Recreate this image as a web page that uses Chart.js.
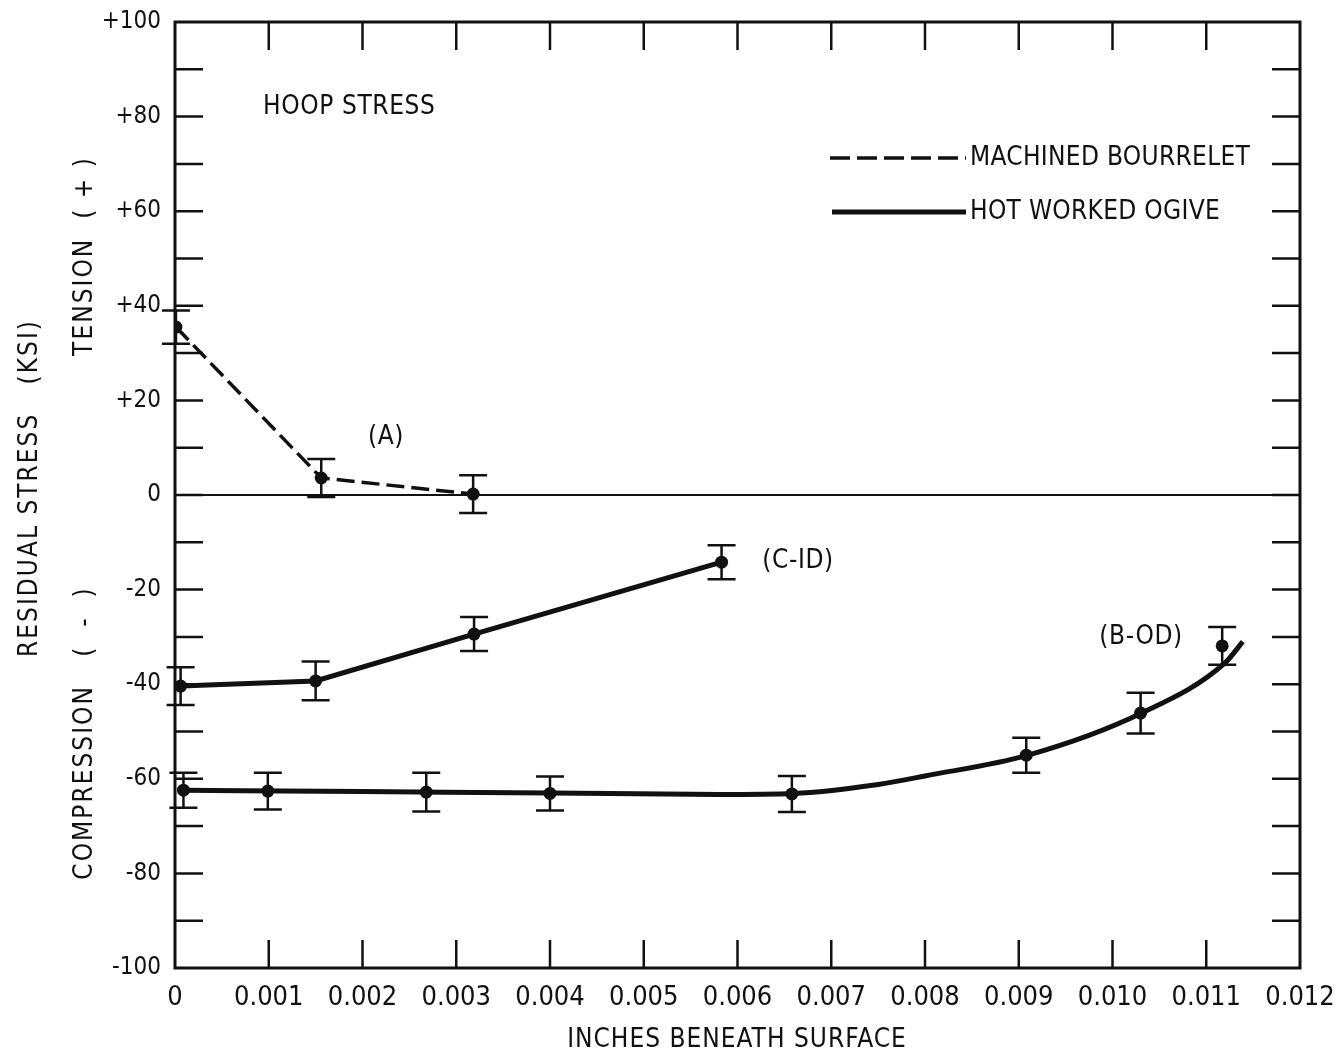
<!DOCTYPE html>
<html>
<head>
<meta charset="utf-8">
<script src="https://cdn.jsdelivr.net/npm/chart.js@4.4.1/dist/chart.umd.min.js"></script>
<style>
  html, body { margin: 0; padding: 0; background: #fff; }
  #wrap { width: 1344px; height: 1056px; }
</style>
</head>
<body>
<div id="wrap"><canvas id="myChart" width="1344" height="1056"></canvas></div>
<script>
// depth in inches, stress in ksi
const bourreletX = [0.00001, 0.00156, 0.00318]
const bourreletY = [35.5, 3.6, 0.2]
const bourreletErr = [3.5, 4.0, 4.0]

const cidX = [0.00006, 0.0015, 0.00319, 0.00583]
const cidY = [-40.4, -39.3, -29.4, -14.2]
const cidErr = [4.0, 4.1, 3.6, 3.6]

const bodX = [0.00009, 0.00099, 0.00268, 0.004, 0.00658, 0.00908, 0.0103, 0.01117]
const bodY = [-62.4, -62.6, -62.8, -63.1, -63.2, -55.0, -46.1, -31.9]
const bodErr = [3.7, 3.9, 4.1, 3.6, 3.8, 3.7, 4.3, 4.0]

// hand-drawn fit curve through the B-OD data
const bodCurveX = [0.00009, 0.002, 0.004, 0.0058, 0.0066, 0.0075, 0.008, 0.0091, 0.0103, 0.0112, 0.01139]
const bodCurveY = [-62.4, -62.7, -63.0, -63.3, -63.1, -61.2, -59.4, -55.0, -46.2, -35.5, -31.0]

const xTicks = [0, 0.001, 0.002, 0.003, 0.004, 0.005, 0.006, 0.007, 0.008, 0.009, 0.010, 0.011, 0.012]
const yTicks = [100, 80, 60, 40, 20, 0, -20, -40, -60, -80, -100]

const FONT = '"Liberation Sans Narrow", "DejaVu Sans Condensed", "DejaVu Sans", sans-serif'
const INK = '#111'

const pts = (xs, ys) => xs.map((x, i) => ({x: x, y: ys[i]}))

const errorBars = {
  id: 'errorBars',
  afterDatasetsDraw(chart) {
    const ctx = chart.ctx
    const xs = chart.scales.x, ys = chart.scales.y
    ctx.save()
    ctx.strokeStyle = INK
    ctx.lineWidth = 2.5
    chart.data.datasets.forEach(ds => {
      if (!ds.err) return
      ds.data.forEach((p, i) => {
        const px = xs.getPixelForValue(p.x)
        const top = ys.getPixelForValue(p.y + ds.err[i])
        const bot = ys.getPixelForValue(p.y - ds.err[i])
        ctx.beginPath()
        ctx.moveTo(px, top); ctx.lineTo(px, bot)
        ctx.moveTo(px - 14, top); ctx.lineTo(px + 14, top)
        ctx.moveTo(px - 14, bot); ctx.lineTo(px + 14, bot)
        ctx.stroke()
      })
    })
    ctx.restore()
  }
}

const frame = {
  id: 'frame',
  beforeDatasetsDraw(chart) {
    const ctx = chart.ctx
    const a = chart.chartArea
    const xs = chart.scales.x, ys = chart.scales.y
    ctx.save()
    ctx.strokeStyle = INK
    // zero line
    ctx.lineWidth = 2
    const y0 = ys.getPixelForValue(0)
    ctx.beginPath(); ctx.moveTo(a.left, y0); ctx.lineTo(a.right, y0); ctx.stroke()
    // inward ticks
    ctx.lineWidth = 2.5
    const len = 28
    ctx.beginPath()
    for (let v = -90; v <= 90; v += 10) {
      const py = ys.getPixelForValue(v)
      ctx.moveTo(a.left, py); ctx.lineTo(a.left + len, py)
      ctx.moveTo(a.right, py); ctx.lineTo(a.right - len, py)
    }
    for (let i = 1; i < xTicks.length - 1; i++) {
      const px = xs.getPixelForValue(xTicks[i])
      ctx.moveTo(px, a.top); ctx.lineTo(px, a.top + len)
      ctx.moveTo(px, a.bottom); ctx.lineTo(px, a.bottom - len)
    }
    ctx.stroke()
    // border
    ctx.lineWidth = 3
    ctx.strokeRect(a.left, a.top, a.right - a.left, a.bottom - a.top)
    ctx.restore()
  },
  afterDraw(chart) {
    const ctx = chart.ctx
    ctx.save()
    ctx.fillStyle = INK
    ctx.font = '26px ' + FONT
    ctx.letterSpacing = '0.6px'
    ctx.textBaseline = 'middle'
    ctx.textAlign = 'left'
    ctx.fillText('HOOP STRESS', 263, 107)
    ctx.textAlign = 'center'
    ctx.fillText('(A)', 386, 437)
    ctx.fillText('(C-ID)', 798, 561)
    ctx.fillText('(B-OD)', 1141, 637)

    // legend
    ctx.letterSpacing = '0.3px'
    ctx.textAlign = 'left'
    ctx.fillText('MACHINED BOURRELET', 970, 158)
    ctx.fillText('HOT WORKED OGIVE', 970, 212)
    ctx.strokeStyle = INK
    ctx.lineWidth = 3.5
    ctx.setLineDash([20, 7])
    ctx.beginPath(); ctx.moveTo(830, 158); ctx.lineTo(966, 158); ctx.stroke()
    ctx.setLineDash([])
    ctx.lineWidth = 5
    ctx.beginPath(); ctx.moveTo(832, 212); ctx.lineTo(966, 212); ctx.stroke()

    // axis titles
    ctx.letterSpacing = '1px'
    ctx.textAlign = 'center'
    ctx.fillText('INCHES BENEATH SURFACE', 737, 1040)
    ctx.letterSpacing = '2px'
    const vtext = (txt, x, y) => {
      ctx.save()
      ctx.translate(x, y)
      ctx.rotate(-Math.PI / 2)
      ctx.fillText(txt, 0, 0)
      ctx.restore()
    }
    vtext('RESIDUAL STRESS   (KSI)', 30, 488)
    vtext('TENSION  ( + )', 85, 256)
    vtext('COMPRESSION   (  -  )', 85, 733)
    ctx.restore()
  }
}

const ctx = document.getElementById('myChart').getContext('2d')
new Chart(ctx, {
  type: 'scatter',
  data: {
    datasets: [
      {
        label: 'MACHINED BOURRELET',
        data: pts(bourreletX, bourreletY),
        err: bourreletErr,
        showLine: true,
        borderColor: INK,
        borderWidth: 3.5,
        borderDash: [18, 7],
        backgroundColor: INK,
        pointRadius: 6.5,
        pointBorderWidth: 0,
      },
      {
        label: 'C-ID',
        data: pts(cidX, cidY),
        err: cidErr,
        showLine: true,
        borderColor: INK,
        borderWidth: 5,
        backgroundColor: INK,
        pointRadius: 6.5,
        pointBorderWidth: 0,
      },
      {
        label: 'B-OD curve',
        data: pts(bodCurveX, bodCurveY),
        showLine: true,
        borderColor: INK,
        borderWidth: 5,
        tension: 0.4,
        cubicInterpolationMode: 'monotone',
        pointRadius: 0,
      },
      {
        label: 'B-OD',
        data: pts(bodX, bodY),
        err: bodErr,
        showLine: false,
        backgroundColor: INK,
        pointRadius: 6.5,
        pointBorderWidth: 0,
      },
    ],
  },
  options: {
    responsive: false,
    animation: false,
    layout: {padding: {left: 0, top: 22, right: 44, bottom: 0}},
    plugins: {legend: {display: false}, tooltip: {enabled: false}},
    scales: {
      x: {
        type: 'linear',
        min: 0,
        max: 0.012,
        afterFit: s => { s.height = 88; s.paddingLeft = 0; s.paddingRight = 0 },
        afterBuildTicks: s => { s.ticks = xTicks.map(v => ({value: v})) },
        grid: {display: false, drawTicks: false},
        border: {display: false},
        ticks: {
          padding: 14,
          color: INK,
          font: {family: FONT, size: 27},
          maxRotation: 0,
          autoSkip: false,
          callback: v => v === 0 ? '0' : v.toFixed(3),
        },
      },
      y: {
        type: 'linear',
        min: -100,
        max: 100,
        afterFit: s => { s.width = 175; s.paddingTop = 0; s.paddingBottom = 0 },
        afterBuildTicks: s => { s.ticks = yTicks.map(v => ({value: v})) },
        grid: {display: false, drawTicks: false},
        border: {display: false},
        ticks: {
          padding: 14,
          color: INK,
          font: {family: FONT, size: 24},
          autoSkip: false,
          callback: v => v > 0 ? '+' + v : String(v),
        },
      },
    },
  },
  plugins: [frame, errorBars],
})
</script>
</body>
</html>
